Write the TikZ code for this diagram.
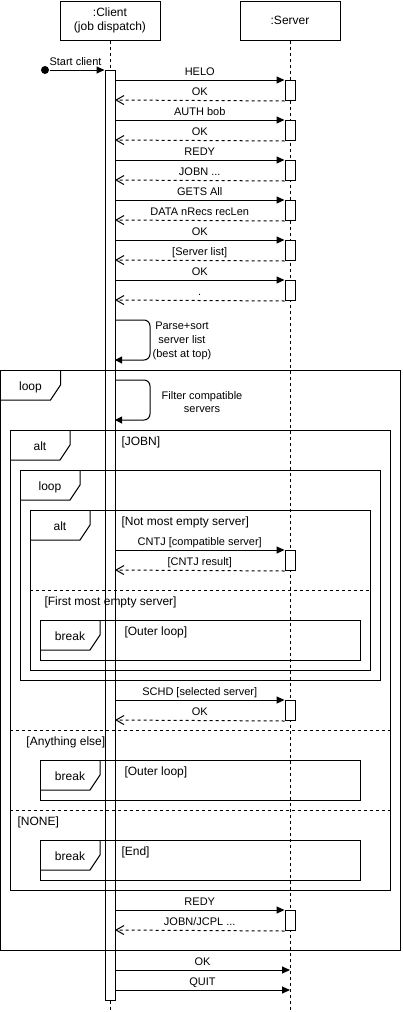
\documentclass[tikz,border=0pt]{standalone}
\usepackage{fontspec}
\setmainfont{Liberation Sans}
\usetikzlibrary{arrows.meta}
\newcommand\msgdots{...}
\begin{document}
\begin{tikzpicture}
[x=1pt,y=-1pt,line width=1pt,font=\fontsize{11}{13}\selectfont,
  headdecorate/.style={draw,minimum width=100pt,minimum height=39pt,inner sep=0pt,align=center,font=\fontsize{12}{13.5}\selectfont},%
  lifedecorate/.style={dash pattern=on 3pt off 3pt},%
  bardecorate/.style={draw,fill=white,minimum width=10pt,inner sep=0pt,anchor=north},%
  calldecorate/.style={-{Triangle[length=8pt,width=7pt]}},%
  replydecorate/.style={dash pattern=on 3pt off 3pt,-{Straight Barb[length=8pt,width=9pt]}},%
  selfdecorate/.style={rounded corners=6pt,-{Triangle[length=7pt,width=7pt]}},%
  textdecorate/.style={inner sep=0pt,anchor=base},%
  kinddecorate/.style={inner sep=0pt,anchor=base,font=\fontsize{12}{14}\selectfont},%
  guarddecorate/.style={inner sep=0pt,anchor=base west,font=\fontsize{12}{14}\selectfont}]
\useasboundingbox (0,0) rectangle (402,1012);
%% lifelines
\node (client) at (110,20.5) [headdecorate] {:Client\\(job dispatch)};
\node (server) at (290,20.5) [headdecorate] {:Server};
\coordinate (clientend) at (110,1012);
\coordinate (serverend) at (290,1012);
\draw[lifedecorate] (client) -- (clientend);
\draw[lifedecorate] (server) -- (serverend);
\node (clientbar) at (110,70) [bardecorate,minimum height=930pt] {};
%% start
\node (start) at (45,70) [circle,fill,inner sep=0pt,minimum size=8pt] {};
\node (starttext) at (75.5,65) [textdecorate] {Start client};
\draw[calldecorate] (start) -- (clientbar.north west);
%% frames
\foreach \framename/\x/\y/\w/\h/\kind in {
  outerloop/0.5/370/399.5/580/loop, altjob/10/430/380/460/alt,
  innerloop/20/470/360/210/loop, altserver/30/510/340/160/alt,
  breakfirst/40/620/320/40/break, breakelse/40/760/320/40/break,
  breakend/40/840/320/40/break}
{
  \draw (\x,\y) rectangle ++(\w,\h);
  \draw (\x+60,\y) -- ++(0,15) -- ++(-10,15) -- (\x,\y+30);
  \node (\framename) at (\x+30,\y+20) [kinddecorate] {\kind};
}
\draw[lifedecorate] (30,590) -- (370,590);
\draw[lifedecorate] (10,730) -- (390,730);
\draw[lifedecorate] (10,810) -- (390,810);
%% guards
\foreach \guardname/\x/\y/\guardtext in {
  jobn/121/445/{[JOBN]}, notempty/121/525/{[Not most empty server]},
  firstempty/44/605/{[First most empty server]}, outerfirst/124/635/{[Outer loop]},
  anything/26/745/{[Anything else]}, outerelse/124/775/{[Outer loop]},
  none/17/825/{[NONE]}, theend/121/855/{[End]}}
{
  \node (\guardname) at (\x,\y) [guarddecorate] {\guardtext};
}
%% messages
\foreach \msgname/\y/\calltext/\replytext in {
  helo/80/HELO/OK, auth/120/AUTH bob/OK, redy/160/REDY/JOBN \msgdots,
  gets/200/GETS All/DATA nRecs recLen, ok/240/OK/{[Server list]},
  okdot/280/OK/., cntj/550/{CNTJ [compatible server]}/{[CNTJ result]},
  schd/700/{SCHD [selected server]}/OK, loopredy/910/REDY/{JOBN/JCPL \msgdots}}
{
  \node (act\msgname) at (290,\y) [bardecorate,minimum height=20pt] {};
  \coordinate (call\msgname) at (115,\y);
  \coordinate (reply\msgname) at (115,\y+20);
  \draw[calldecorate] (call\msgname) -- node[midway,textdecorate,yshift=5pt] {\calltext} (act\msgname.north west);
  \draw[replydecorate] (act\msgname.south west) -- node[midway,textdecorate,yshift=5pt] {\replytext} (reply\msgname);
}
\foreach \msgname/\y/\calltext in {ok/970/OK, quit/990/QUIT}
{
  \coordinate (end\msgname) at (115,\y);
  \coordinate (life\msgname) at (290,\y);
  \draw[calldecorate] (end\msgname) -- node[midway,textdecorate,yshift=5pt] {\calltext} (life\msgname);
}
%% self calls
\coordinate (parse) at (115,320);
\coordinate (parseback) at (115,360);
\draw[selfdecorate] (parse) -- ++(35,0) -- ++(0,40) -- (parseback);
\node (parsetext) at (182,341) [align=center,inner sep=0pt,font=\fontsize{11}{14}\selectfont] {Parse+sort\\server list\\(best at top)};
\coordinate (filter) at (115,380);
\coordinate (filterback) at (115,420);
\draw[selfdecorate] (filter) -- ++(35,0) -- ++(0,40) -- (filterback);
\node (filtertext) at (202,402.5) [align=center,inner sep=0pt] {Filter compatible\\servers};
\end{tikzpicture}
\end{document}
